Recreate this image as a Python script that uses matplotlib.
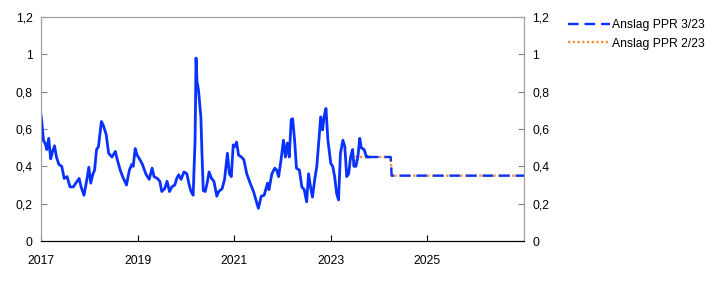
import numpy as np
import matplotlib.pyplot as plt
from matplotlib.ticker import FuncFormatter

# history (decimal years)
hist_t = [2017.00, 2017.02, 2017.05, 2017.09, 2017.12, 2017.16, 2017.20, 2017.24, 2017.28, 2017.32,
          2017.37, 2017.43, 2017.48, 2017.54, 2017.60, 2017.67, 2017.72, 2017.79, 2017.83, 2017.89,
          2017.95, 2017.99, 2018.03, 2018.07, 2018.11, 2018.15, 2018.19, 2018.25, 2018.29, 2018.35,
          2018.40, 2018.47, 2018.54, 2018.58, 2018.64, 2018.69, 2018.77, 2018.83, 2018.88, 2018.91,
          2018.95, 2018.99, 2019.05, 2019.10, 2019.17, 2019.24, 2019.30, 2019.34, 2019.41, 2019.46,
          2019.50, 2019.56, 2019.61, 2019.66, 2019.71, 2019.77, 2019.81, 2019.85, 2019.90, 2019.96,
          2020.02, 2020.06, 2020.10, 2020.15, 2020.19, 2020.21, 2020.23, 2020.26, 2020.31, 2020.33,
          2020.36, 2020.40, 2020.44, 2020.48, 2020.53, 2020.58, 2020.64, 2020.68, 2020.75, 2020.80,
          2020.86, 2020.90, 2020.94, 2020.98, 2021.01, 2021.05, 2021.09, 2021.15, 2021.20, 2021.26,
          2021.33, 2021.40, 2021.45, 2021.50, 2021.56, 2021.62, 2021.69, 2021.72, 2021.78, 2021.84,
          2021.88, 2021.92, 2021.97, 2022.02, 2022.06, 2022.10, 2022.14, 2022.18, 2022.21, 2022.25,
          2022.29, 2022.35, 2022.40, 2022.45, 2022.50, 2022.54, 2022.58, 2022.62, 2022.67, 2022.71,
          2022.76, 2022.79, 2022.83, 2022.86, 2022.90, 2022.94, 2023.00, 2023.04, 2023.08, 2023.12,
          2023.16, 2023.20, 2023.25, 2023.29, 2023.33, 2023.37, 2023.41, 2023.45, 2023.48, 2023.52,
          2023.56, 2023.60, 2023.63, 2023.69, 2023.74, 2023.77]
hist_v = [0.675, 0.63, 0.54, 0.52, 0.49, 0.55, 0.44, 0.48, 0.51, 0.45,
          0.41, 0.40, 0.335, 0.345, 0.29, 0.29, 0.31, 0.335, 0.29, 0.245,
          0.33, 0.395, 0.31, 0.355, 0.38, 0.49, 0.505, 0.64, 0.62, 0.57,
          0.47, 0.45, 0.48, 0.435, 0.38, 0.345, 0.30, 0.38, 0.41, 0.40,
          0.495, 0.46, 0.435, 0.41, 0.36, 0.33, 0.39, 0.345, 0.335, 0.32,
          0.265, 0.28, 0.32, 0.265, 0.29, 0.30, 0.335, 0.355, 0.33, 0.37,
          0.36, 0.31, 0.27, 0.245, 0.54, 0.98, 0.855, 0.81, 0.665, 0.49,
          0.27, 0.265, 0.31, 0.37, 0.335, 0.32, 0.24, 0.265, 0.28, 0.33,
          0.47, 0.36, 0.345, 0.515, 0.505, 0.53, 0.46, 0.45, 0.435, 0.36,
          0.31, 0.265, 0.22, 0.175, 0.24, 0.245, 0.31, 0.275, 0.36, 0.39,
          0.38, 0.345, 0.435, 0.54, 0.45, 0.525, 0.45, 0.65, 0.655, 0.54,
          0.39, 0.38, 0.29, 0.275, 0.21, 0.36, 0.29, 0.235, 0.335, 0.40,
          0.56, 0.665, 0.595, 0.665, 0.71, 0.54, 0.415, 0.40, 0.345, 0.255,
          0.22, 0.47, 0.54, 0.505, 0.345, 0.36, 0.45, 0.49, 0.40, 0.40,
          0.45, 0.55, 0.50, 0.49, 0.45, 0.45]

# forecasts
ppr3_t = [2023.77, 2024.24, 2024.26, 2027.0]
ppr3_v = [0.45, 0.45, 0.35, 0.35]
ppr2_t = [2023.46, 2023.51, 2024.24, 2024.26, 2027.0]
ppr2_v = [0.40, 0.45, 0.45, 0.35, 0.35]

blue = '#0a32ff'
orange = '#f5923e'

plt.rcParams['font.family'] = ['Liberation Sans', 'DejaVu Sans']
fs = 8.7

fig = plt.figure(figsize=(7.22, 2.82), dpi=100)
ax = fig.add_axes([41/722, 1-241/282, 483/722, 224/282])

ax.plot(ppr2_t, ppr2_v, color=orange, lw=1.7, linestyle=(0, (1, 1)), label='Anslag PPR 2/23', zorder=2)
ax.plot(ppr3_t, ppr3_v, color=blue, lw=1.7, linestyle=(0, (4.5, 2.5)), label='Anslag PPR 3/23', zorder=3)
ax.plot(hist_t, hist_v, color=blue, lw=2.0, zorder=4)

ax.set_xlim(2017, 2027)
ax.set_ylim(0, 1.2)
ax.set_xticks([2017, 2019, 2021, 2023, 2025])
ax.set_xticklabels(['2017', '2019', '2021', '2023', '2025'])
yt = [0, 0.2, 0.4, 0.6, 0.8, 1.0, 1.2]
fmt = FuncFormatter(lambda v, p: ('%g' % round(v, 1)).replace('.', ','))
ax.set_yticks(yt)
ax.yaxis.set_major_formatter(fmt)

ax2 = ax.twinx()
ax2.set_ylim(0, 1.2)
ax2.set_yticks(yt)
ax2.yaxis.set_major_formatter(fmt)

for a in (ax, ax2):
    a.tick_params(direction='in', length=4, width=0.8, color='#808080', pad=6, labelsize=fs)
    for s in ('top', 'right', 'left'):
        a.spines[s].set_color('#a0a0a0')
    a.spines['bottom'].set_color('black')
ax.tick_params(axis='x', color='black', pad=10)

h, l = ax.get_legend_handles_labels()
fig.legend([h[1], h[0]], [l[1], l[0]], loc='upper left', bbox_to_anchor=(568/722, 1-19/282),
           frameon=False, borderpad=0, borderaxespad=0, handlelength=3.5, handletextpad=0.1,
           labelspacing=0.55, fontsize=fs)

fig.savefig('out.png', dpi=100)
